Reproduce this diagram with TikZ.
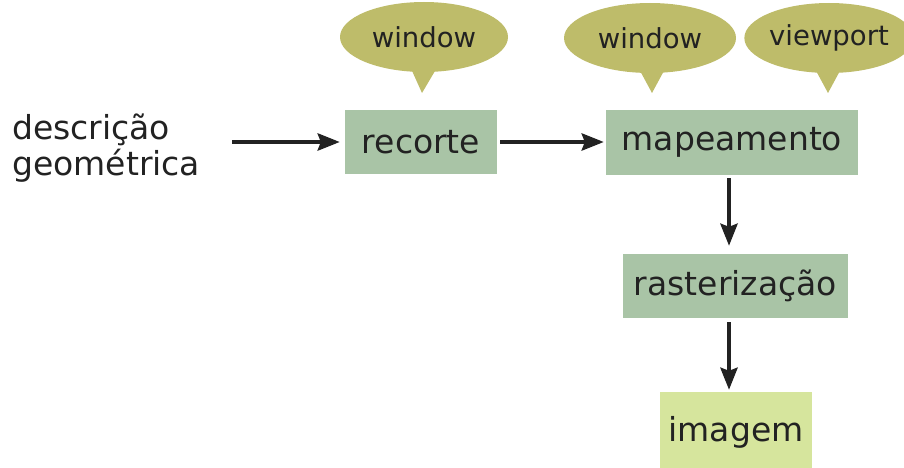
\documentclass[tikz,border=0pt]{standalone}
\usepackage{fontspec}
\setmainfont{DejaVu Sans}
\usetikzlibrary{shapes.geometric,arrows.meta}
\definecolor{boxgreen}{RGB}{169,196,166}
\definecolor{imggreen}{RGB}{214,229,157}
\definecolor{bubble}{RGB}{190,188,106}
\definecolor{txt}{RGB}{34,34,34}
\tikzset{
  stagebox/.style={fill=boxgreen, text=txt, font=\fontsize{33}{33}\selectfont, inner sep=0pt},
  bubblenode/.style={ellipse, fill=bubble, text=txt, font=\fontsize{27.5}{27.5}\selectfont, inner sep=0pt},
  flow/.style={line width=4.2pt, draw=txt, -{Stealth[length=22pt,width=17pt,inset=3pt]}}
}
\begin{document}
\begin{tikzpicture}[x=1pt,y=-1pt]
\useasboundingbox (0,0) rectangle (904,468);
% boxes
\node[stagebox, minimum width=152pt, minimum height=63pt] (rec) at (421,142) {recorte};
\node[stagebox, minimum width=252pt, minimum height=65pt] (map) at (732,142.5) {mapeamento};
\node[stagebox, minimum width=225pt, minimum height=64pt] (ras) at (735.5,286) {rasterização};
\node[stagebox, fill=imggreen, minimum width=152pt, minimum height=80pt] (img) at (736,432) {imagem};
% input text
\node[anchor=west, align=left, text=txt, font=\fontsize{33}{36}\selectfont, inner sep=0pt] (desc) at (12,148) {descrição\\geométrica};
\coordinate (inS) at (232,142);
% bubbles
\node[bubblenode, minimum width=168pt, minimum height=70pt] (b1) at (424,37) {window};
\node[bubblenode, minimum width=172pt, minimum height=70pt] (b2) at (650,38) {window};
\node[bubblenode, minimum width=166pt, minimum height=70pt] (b3) at (829,38) {viewport};
\coordinate (t1) at (422,93);
\coordinate (t2) at (652,93);
\coordinate (t3) at (828,93);
\fill[bubble] ([xshift=-15pt,yshift=8pt]b1.south) -- (t1) -- ([xshift=15pt,yshift=8pt]b1.south) -- cycle;
\fill[bubble] ([xshift=-13pt,yshift=8pt]b2.south) -- (t2) -- ([xshift=17pt,yshift=8pt]b2.south) -- cycle;
\fill[bubble] ([xshift=-16pt,yshift=8pt]b3.south) -- (t3) -- ([xshift=14pt,yshift=8pt]b3.south) -- cycle;
% arrows
\draw[flow] (inS) -- ([xshift=-5pt]rec.west);
\draw[flow] ([xshift=3pt]rec.east) -- ([xshift=-2pt,yshift=0.5pt]map.west);
\draw[flow] ([xshift=-3pt,yshift=-3pt]map.south) -- ([xshift=-6.5pt,yshift=8pt]ras.north);
\draw[flow] ([xshift=-6.5pt,yshift=-4pt]ras.south) -- ([xshift=-7pt,yshift=2pt]img.north);
\end{tikzpicture}
\end{document}
